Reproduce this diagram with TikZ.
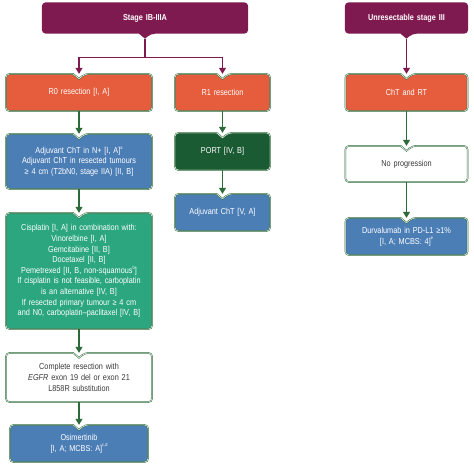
\documentclass[tikz,border=0pt]{standalone}
\usepackage{fontspec}
\setmainfont{Liberation Sans}[FakeStretch=0.85]
\usetikzlibrary{calc,arrows.meta,backgrounds}
\definecolor{maroon}{HTML}{7E1A50}
\definecolor{orangered}{HTML}{E65D3E}
\definecolor{bblue}{HTML}{4C7EB6}
\definecolor{dgreen}{HTML}{1B5B33}
\definecolor{teal}{HTML}{2BA67F}
\definecolor{bgreen}{HTML}{2C6A3A}
\definecolor{ltext}{HTML}{3A3A3A}
\newcommand\supx[1]{\raisebox{0.9ex}{\fontsize{4.6}{5}\selectfont #1}}
\newcommand\nbox[2]{%
\begin{pgfonlayer}{background}
\path[fill=#2,draw=bgreen,line width=1.5pt,postaction={draw=white,line width=0.5pt}]
 ($(#1.north)+(-6,0)$) [rounded corners=4pt] -- (#1.north west) -- (#1.south west) -- (#1.south east) -- (#1.north east) -- ($(#1.north)+(6,0)$) [sharp corners] -- ($(#1.north)+(0,5)$) -- cycle;
\end{pgfonlayer}}
\newcommand\headbox[1]{%
\begin{pgfonlayer}{background}
\path[fill=maroon]
 ($(#1.south)+(-6,0)$) [rounded corners=4pt] -- (#1.south west) -- (#1.north west) -- (#1.north east) -- (#1.south east) -- ($(#1.south)+(6,0)$) [sharp corners] -- ($(#1.south)+(0,5)$) -- cycle;
\end{pgfonlayer}}
\tikzset{
 txt/.style={inner xsep=3pt,inner ysep=0pt,align=center,font=\fontsize{8.6}{10.6}\selectfont,text=white},
 dtxt/.style={txt,text=ltext},
 head/.style={txt,font=\fontsize{8.6}{10}\selectfont\bfseries},
 garr/.style={draw=bgreen,line width=1.2pt,-{Triangle[width=7pt,length=6pt]}},
 marr/.style={draw=maroon,line width=1.2pt,-{Triangle[width=7pt,length=6pt]}}
}
\begin{document}
\begin{tikzpicture}[x=1pt,y=-1pt]
\useasboundingbox (0,0) rectangle (474,469);
% headers
\node[head,text width=200pt,minimum height=31pt] (s1) at (145,18) {Stage IB-IIIA};
\node[head,text width=117pt,minimum height=31pt] (s2) at (406.5,18) {Unresectable stage III};
% row 1
\node[txt,text width=140pt,minimum height=37pt] (r0) at (79,92.5) {R0 resection [I, A]};
\node[txt,text width=89pt,minimum height=37pt] (r1) at (222.5,92.5) {R1 resection};
\node[txt,text width=116pt,minimum height=37pt] (cr) at (406.5,92.5) {ChT and RT};
% left column
\node[txt,text width=140pt,minimum height=55pt] (adj) at (79,161.5) {Adjuvant ChT in N+ [I, A]\supx{a}\\Adjuvant ChT in resected tumours\\≥ 4 cm (T2bN0, stage IIA) [II, B]};
\node[txt,text width=140pt,minimum height=116pt] (cis) at (79,271) {Cisplatin [I, A] in combination with:\\Vinorelbine [I, A]\\Gemcitabine [II, B]\\Docetaxel [II, B]\\Pemetrexed [II, B, non-squamous\supx{b}]\\If cisplatin is not feasible, carboplatin\\is an alternative [IV, B]\\If resected primary tumour ≥ 4 cm\\and N0, carboplatin–paclitaxel [IV, B]};
\node[dtxt,text width=140pt,minimum height=49pt] (cres) at (79,377.5) {Complete resection with\\\textit{EGFR} exon 19 del or exon 21\\L858R substitution};
\node[txt,text width=132pt,minimum height=37pt] (osi) at (79,443.5) {Osimertinib\\{}[I, A; MCBS: A]\supx{c,d}};
% middle column
\node[txt,text width=89pt,minimum height=37pt] (port) at (222.5,151.5) {PORT [IV, B]};
\node[txt,text width=89pt,minimum height=37pt] (adj2) at (222.5,212.5) {Adjuvant ChT [V, A]};
% right column
\node[dtxt,text width=116pt,minimum height=36pt] (np) at (406.5,164) {No progression};
\node[txt,text width=116pt,minimum height=37pt] (dur) at (406.5,236.5) {Durvalumab in PD-L1 ≥1\%\\{}[I, A; MCBS: 4]\supx{e}};
% shapes
\headbox{s1}
\headbox{s2}
\nbox{r0}{orangered}
\nbox{r1}{orangered}
\nbox{cr}{orangered}
\nbox{adj}{bblue}
\nbox{cis}{teal}
\nbox{cres}{white}
\nbox{osi}{bblue}
\nbox{port}{dgreen}
\nbox{adj2}{bblue}
\nbox{np}{white}
\nbox{dur}{bblue}
% connectors
\draw[marr] ($(s1.south)+(0,5)$) -- ++(0,18.5) -| (r0.north);
\draw[marr] ($(s1.south)+(0,5)$) -- ++(0,18.5) -| (r1.north);
\draw[marr] ($(s2.south)+(0,5)$) -- (cr.north);
\draw[garr] (r0.south) -- (adj.north);
\draw[garr] (adj.south) -- (cis.north);
\draw[garr] (cis.south) -- (cres.north);
\draw[garr] (cres.south) -- (osi.north);
\draw[garr] (r1.south) -- (port.north);
\draw[garr] (port.south) -- (adj2.north);
\draw[garr] (cr.south) -- (np.north);
\draw[garr] (np.south) -- (dur.north);
\end{tikzpicture}
\end{document}
